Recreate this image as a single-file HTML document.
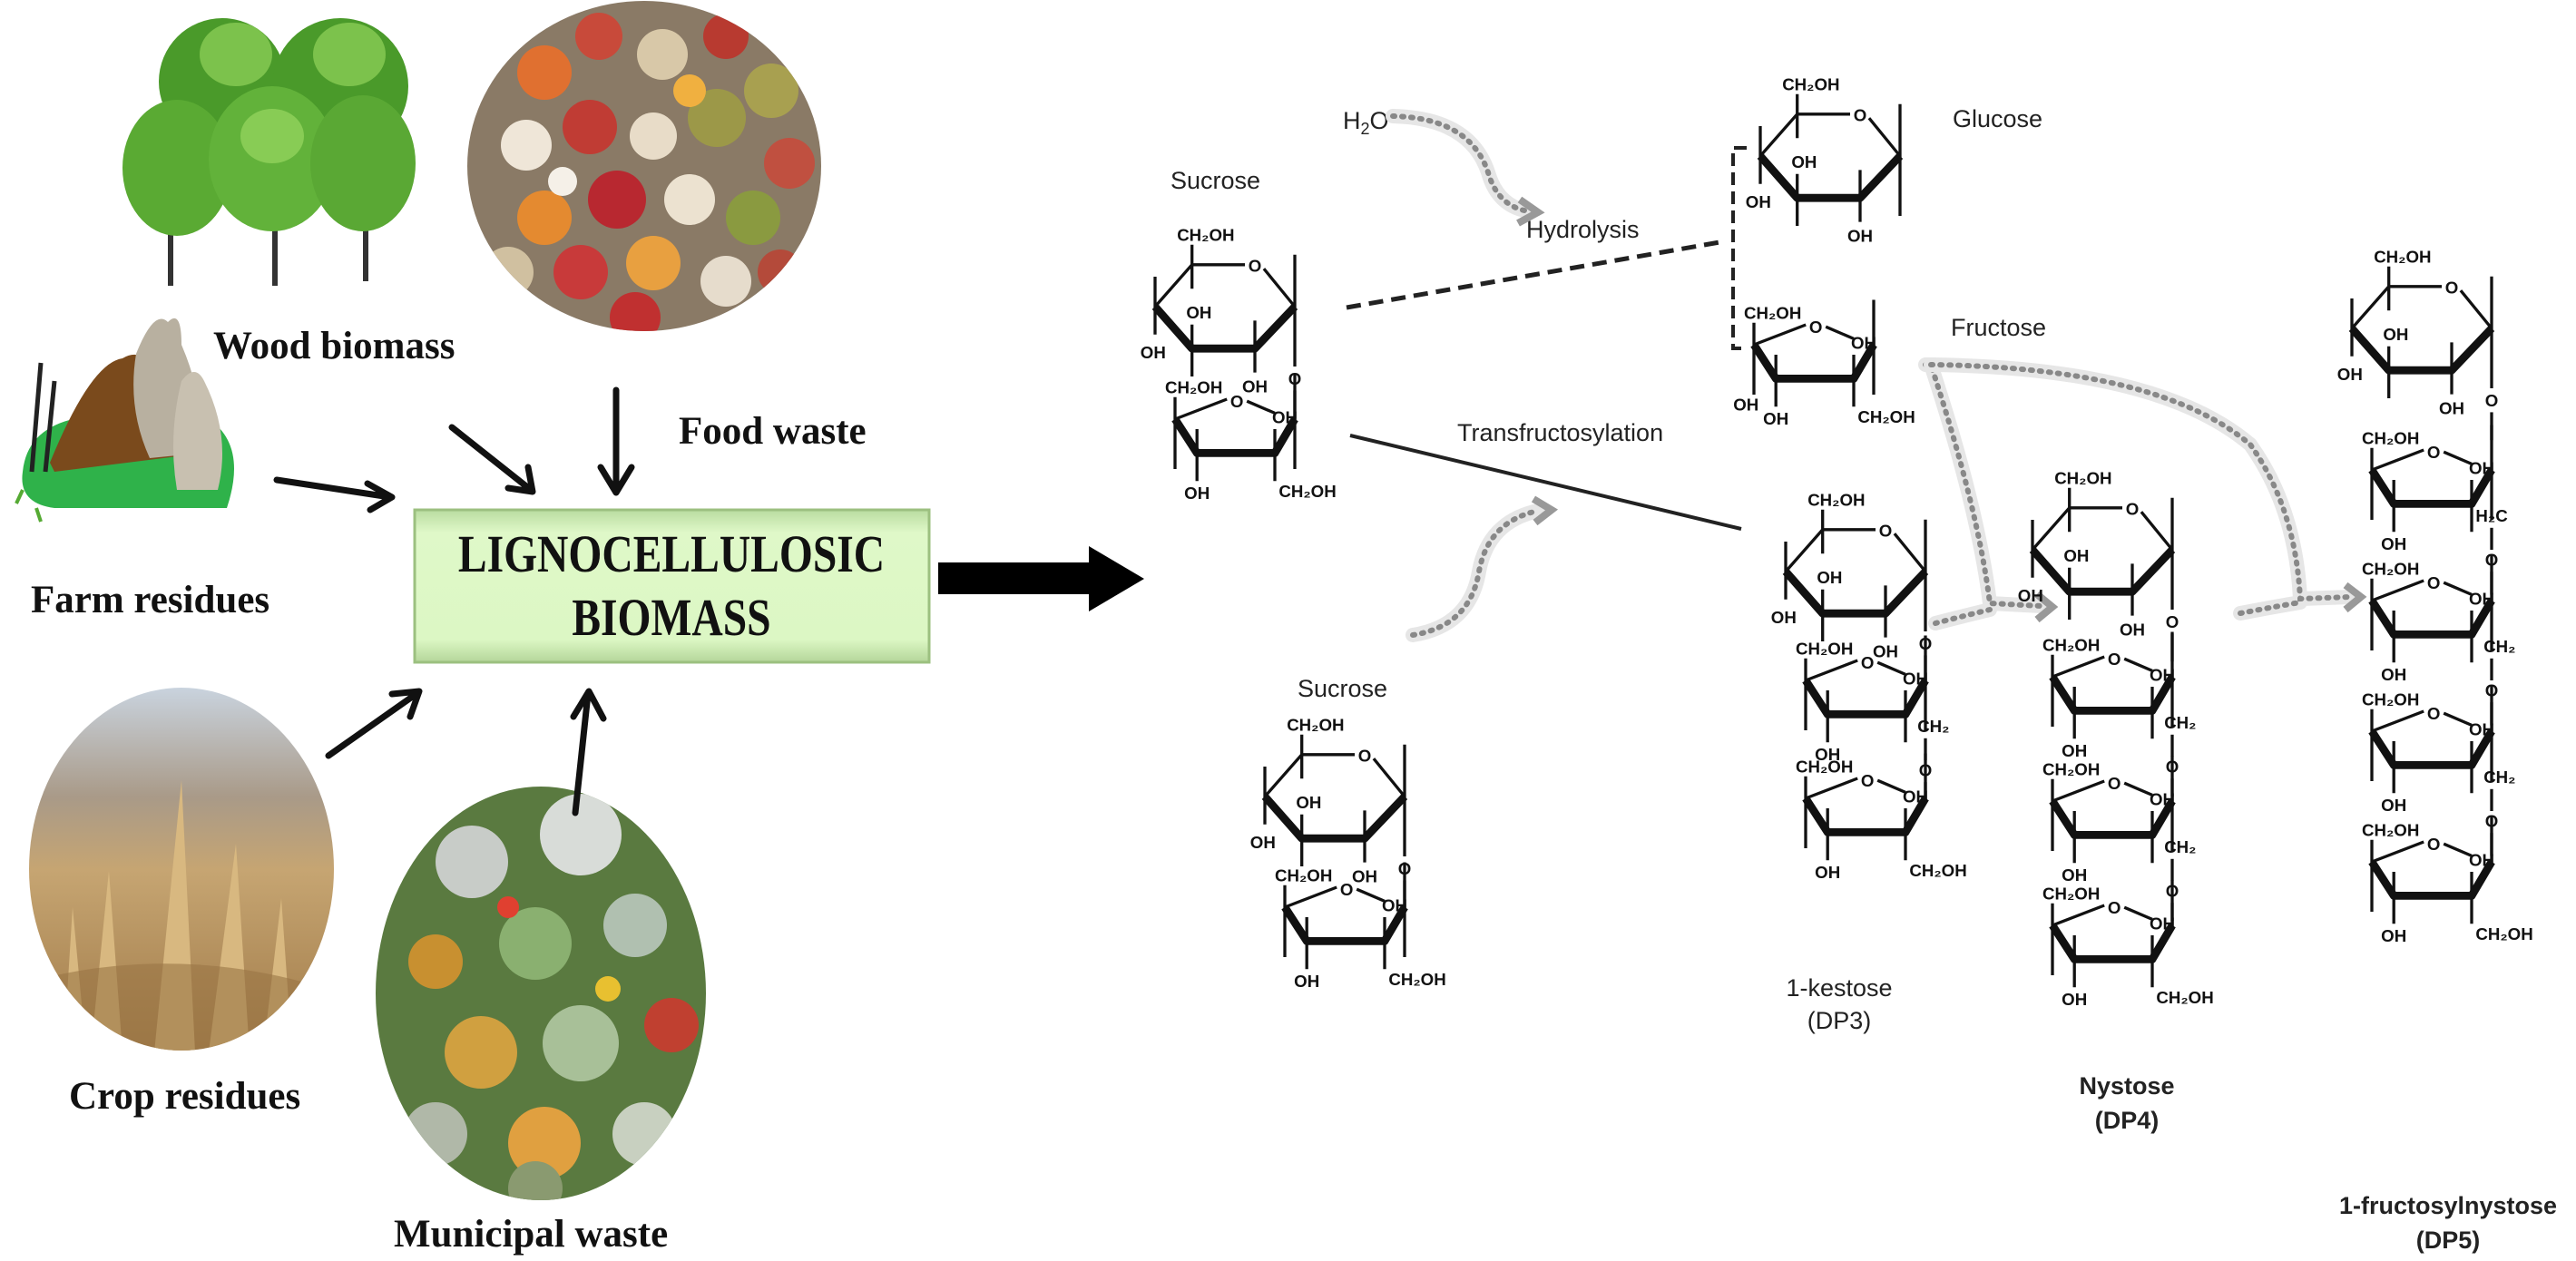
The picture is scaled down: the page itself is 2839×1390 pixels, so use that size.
<!DOCTYPE html>
<html><head><meta charset="utf-8"><style>
html,body{margin:0;padding:0;background:#fff}
svg{display:block}
.t{stroke:#111;stroke-width:3;fill:none}
.k{stroke:#111;stroke-width:8;fill:none;stroke-linejoin:round}
.ch text{font-family:"Liberation Sans",sans-serif;font-weight:bold;font-size:17px;fill:#111}
.c{text-anchor:middle}
.lbl{font-family:"Liberation Sans",sans-serif;font-size:27px;fill:#222}
.bl{font-family:"Liberation Serif",serif;font-weight:bold;font-size:43px;fill:#111}
.dot{stroke:#888;stroke-width:6;stroke-dasharray:2 8;stroke-linecap:round;fill:none}
.halo{stroke:#e6e6e6;stroke-width:16;fill:none;stroke-linecap:round}
.ar{stroke:#111;stroke-width:7;fill:none;stroke-linecap:round;stroke-linejoin:round}
</style></head><body>
<svg width="2839" height="1390" viewBox="0 0 2839 1390" xmlns="http://www.w3.org/2000/svg">
<defs>
<linearGradient id="gbox" x1="0" y1="0" x2="0" y2="1"><stop offset="0" stop-color="#b9dca0"/><stop offset="0.15" stop-color="#dff8c8"/><stop offset="0.85" stop-color="#dcf7c4"/><stop offset="1" stop-color="#b4d69a"/></linearGradient>
<clipPath id="cf"><ellipse cx="710" cy="183" rx="195" ry="182"/></clipPath>
<clipPath id="cc"><ellipse cx="200" cy="958" rx="168" ry="200"/></clipPath>
<clipPath id="cm"><ellipse cx="596" cy="1095" rx="182" ry="228"/></clipPath>
<linearGradient id="gcrop" x1="0" y1="0" x2="0" y2="1"><stop offset="0" stop-color="#c9d3de"/><stop offset="0.3" stop-color="#a99a88"/><stop offset="0.5" stop-color="#c6a572"/><stop offset="1" stop-color="#a07a48"/></linearGradient>
</defs>

<g>
<rect x="185" y="220" width="6" height="95" fill="#333"/>
<rect x="300" y="220" width="6" height="95" fill="#333"/>
<rect x="400" y="220" width="6" height="90" fill="#333"/>
<ellipse cx="245" cy="90" rx="70" ry="70" fill="#4a9a2a"/>
<ellipse cx="375" cy="95" rx="75" ry="75" fill="#4a9a2a"/>
<ellipse cx="195" cy="185" rx="60" ry="75" fill="#5aaa33"/>
<ellipse cx="300" cy="175" rx="70" ry="80" fill="#62b23a"/>
<ellipse cx="400" cy="180" rx="58" ry="75" fill="#5aa834"/>
<ellipse cx="260" cy="60" rx="40" ry="35" fill="#7cc24c"/>
<ellipse cx="385" cy="60" rx="40" ry="35" fill="#7cc24c"/>
<ellipse cx="300" cy="150" rx="35" ry="30" fill="#88cc55"/>
</g>

<g clip-path="url(#cf)">
<rect x="510" y="0" width="400" height="370" fill="#8a7a66"/>
<circle cx="600" cy="80" r="30" fill="#e07030"/><circle cx="660" cy="40" r="26" fill="#c84a3a"/>
<circle cx="730" cy="60" r="28" fill="#d8c8a8"/><circle cx="800" cy="40" r="25" fill="#b83a30"/>
<circle cx="850" cy="100" r="30" fill="#a8a050"/><circle cx="580" cy="160" r="28" fill="#efe6d8"/>
<circle cx="650" cy="140" r="30" fill="#c03c34"/><circle cx="720" cy="150" r="26" fill="#e8dcc8"/>
<circle cx="790" cy="130" r="32" fill="#9c9848"/><circle cx="870" cy="180" r="28" fill="#c05040"/>
<circle cx="600" cy="240" r="30" fill="#e48a30"/><circle cx="680" cy="220" r="32" fill="#b82830"/>
<circle cx="760" cy="220" r="28" fill="#ece2d0"/><circle cx="830" cy="240" r="30" fill="#8a9a40"/>
<circle cx="560" cy="300" r="28" fill="#d0c0a0"/><circle cx="640" cy="300" r="30" fill="#c83a3a"/>
<circle cx="720" cy="290" r="30" fill="#e8a040"/><circle cx="800" cy="310" r="28" fill="#e6dccc"/>
<circle cx="700" cy="350" r="28" fill="#c03030"/><circle cx="860" cy="300" r="25" fill="#b44a3a"/>
<circle cx="760" cy="100" r="18" fill="#f0b040"/><circle cx="620" cy="200" r="16" fill="#f5f0e8"/>
</g>

<g>
<path d="M25,520 Q30,470 90,460 L240,470 Q270,500 250,560 L60,560 Q20,555 25,520Z" fill="#2fb24a"/>
<path d="M55,510 Q100,400 135,395 Q160,380 180,420 Q220,470 220,500 L60,520Z" fill="#7a4a1c"/>
<path d="M150,390 Q170,340 185,355 Q200,340 200,380 Q230,450 215,500 L165,505 Q140,450 150,390Z" fill="#b8b0a0"/>
<path d="M200,420 Q215,400 225,420 Q255,480 240,540 L195,540 Q185,480 200,420Z" fill="#c8c0b0"/>
<path d="M35,520 L45,400 M50,520 L60,420" stroke="#222" stroke-width="5"/>
<path d="M25,540 L18,555 M40,560 L45,575" stroke="#5a3" stroke-width="4"/>
</g>

<g clip-path="url(#cc)">
<rect x="30" y="758" width="340" height="402" fill="url(#gcrop)"/>
<path d="M100,1160 L120,960 L135,1160Z M170,1160 L200,860 L215,1160Z M230,1160 L260,930 L275,1160Z M70,1160 L80,1000 L95,1160Z M290,1160 L310,990 L322,1160Z" fill="#d8b880"/>
<path d="M40,1080 Q200,1040 360,1090 L360,1160 L40,1160Z" fill="#9a7444" opacity="0.6"/>
</g>

<g clip-path="url(#cm)">
<rect x="410" y="865" width="380" height="490" fill="#5a7a40"/>
<circle cx="520" cy="950" r="40" fill="#c8ccc8"/><circle cx="640" cy="920" r="45" fill="#d8dcd8"/>
<circle cx="480" cy="1060" r="30" fill="#c89030"/><circle cx="590" cy="1040" r="40" fill="#8ab070"/>
<circle cx="700" cy="1020" r="35" fill="#b0c0b0"/><circle cx="530" cy="1160" r="40" fill="#d0a040"/>
<circle cx="640" cy="1150" r="42" fill="#a8c098"/><circle cx="740" cy="1130" r="30" fill="#c04030"/>
<circle cx="480" cy="1250" r="35" fill="#b0b8a8"/><circle cx="600" cy="1260" r="40" fill="#e0a040"/>
<circle cx="710" cy="1250" r="35" fill="#c8d0c0"/><circle cx="590" cy="1310" r="30" fill="#8a9a70"/>
<circle cx="560" cy="1000" r="12" fill="#e04030"/><circle cx="670" cy="1090" r="14" fill="#e8c030"/>
</g>

<text class="bl" x="235" y="395">Wood biomass</text>
<text class="bl" x="748" y="489">Food waste</text>
<text class="bl" x="34" y="675">Farm residues</text>
<text class="bl" x="76" y="1222">Crop residues</text>
<text class="bl" x="434" y="1374">Municipal waste</text>

<rect x="457" y="562" width="567" height="168" fill="url(#gbox)" stroke="#9cc080" stroke-width="3"/>
<g font-family="Liberation Serif,serif" font-weight="bold" font-size="58" fill="#111" text-anchor="middle">
<text x="740" y="630" transform="translate(740 0) scale(0.82 1) translate(-740 0)">LIGNOCELLULOSIC</text>
<text x="740" y="700" transform="translate(740 0) scale(0.82 1) translate(-740 0)">BIOMASS</text>
</g>

<g class="ar">
<path d="M305,529 L430,548 M405,533 L432,548 L408,562"/>
<path d="M498,471 L585,540 M560,538 L587,542 L582,515"/>
<path d="M679,430 L679,540 M662,515 L679,543 L696,515"/>
<path d="M362,833 L460,764 M432,765 L462,762 L452,790"/>
<path d="M634,896 L648,765 M632,790 L649,762 L665,792"/>
</g>
<path d="M1034,620 L1200,620 L1200,602 L1261,638 L1200,674 L1200,655 L1034,655Z" fill="#000"/>

<text class="lbl" x="1480" y="142">H<tspan font-size="18" dy="6">2</tspan><tspan dy="-6">O</tspan></text>
<text class="lbl" x="1290" y="208">Sucrose</text>
<text class="lbl" x="1682" y="262">Hydrolysis</text>
<text class="lbl" x="2152" y="140">Glucose</text>
<text class="lbl" x="2150" y="370">Fructose</text>
<text class="lbl" x="1606" y="486">Transfructosylation</text>
<text class="lbl" x="1430" y="768">Sucrose</text>
<text class="lbl" x="2027" y="1098" text-anchor="middle">1-kestose</text>
<text class="lbl" x="2027" y="1134" text-anchor="middle">(DP3)</text>
<g class="lbl" font-weight="bold" text-anchor="middle">
<text x="2344" y="1206">Nystose</text><text x="2344" y="1244">(DP4)</text>
<text x="2698" y="1338">1-fructosylnystose</text><text x="2698" y="1376">(DP5)</text>
</g>

<path d="M1484,339 L1901,266" stroke="#222" stroke-width="5" stroke-dasharray="16 9"/>
<path d="M1925,163 L1910,163 L1910,384 L1925,384" stroke="#222" stroke-width="4" stroke-dasharray="14 7" fill="none"/>
<path d="M1488,480 L1919,583" stroke="#222" stroke-width="4"/>

<g>
<path class="halo" d="M1535,128 Q1620,130 1640,190 Q1650,225 1680,232"/>
<path class="dot" d="M1535,128 Q1620,130 1640,190 Q1650,225 1680,232"/>
<path d="M1675,220 L1695,234 L1673,246" stroke="#999" stroke-width="8" fill="none"/>
<path class="halo" d="M1557,700 Q1620,690 1630,630 Q1640,575 1695,563"/>
<path class="dot" d="M1557,700 Q1620,690 1630,630 Q1640,575 1695,563"/>
<path d="M1690,550 L1710,562 L1692,576" stroke="#999" stroke-width="8" fill="none"/>
<path class="halo" d="M2122,402 L2128,402 Q2180,560 2193,665 L2250,668 M2133,687 Q2160,680 2193,672"/>
<path class="dot" d="M2122,402 L2128,402 Q2180,560 2193,665 L2250,668 M2133,687 Q2160,680 2193,672"/>
<path d="M2245,655 L2262,669 L2245,683" stroke="#999" stroke-width="8" fill="none"/>
<path class="halo" d="M2128,402 Q2380,405 2480,490 Q2530,560 2535,660 L2590,658 M2469,676 Q2500,670 2535,664"/>
<path class="dot" d="M2128,402 Q2380,405 2480,490 Q2530,560 2535,660 L2590,658 M2469,676 Q2500,670 2535,664"/>
<path d="M2585,645 L2602,658 L2585,672" stroke="#999" stroke-width="8" fill="none"/>
</g>

<g class="ch">
<g transform="translate(1273,338) scale(1.1)"><path class="t" d="M0,0 L37,-42 L90,-42 M109,-38 L140,0 M0,-30 V28 M37,-62 V-18 M37,18 V70 M100,14 V66 M140,-52 V60"/><path class="k" d="M0,0 L37,42 L100,42 L140,0"/><text x="100" y="-35" class="c">O</text><text x="22" y="-66">CH₂OH</text><text x="44" y="12" class="c">OH</text><text x="-2" y="52" class="c">OH</text><text x="100" y="86" class="c">OH</text><text x="140" y="78" class="c">O</text><path class="t" d="M140,84 V112"/></g>
<g transform="translate(1394,878) scale(1.1)"><path class="t" d="M0,0 L37,-42 L90,-42 M109,-38 L140,0 M0,-30 V28 M37,-62 V-18 M37,18 V70 M100,14 V66 M140,-52 V60"/><path class="k" d="M0,0 L37,42 L100,42 L140,0"/><text x="100" y="-35" class="c">O</text><text x="22" y="-66">CH₂OH</text><text x="44" y="12" class="c">OH</text><text x="-2" y="52" class="c">OH</text><text x="100" y="86" class="c">OH</text><text x="140" y="78" class="c">O</text><path class="t" d="M140,84 V112"/></g>
<g transform="translate(1940,172) scale(1.1)"><path class="t" d="M0,0 L37,-42 L90,-42 M109,-38 L140,0 M0,-30 V28 M37,-62 V-18 M37,18 V70 M100,14 V66 M140,-52 V60"/><path class="k" d="M0,0 L37,42 L100,42 L140,0"/><text x="100" y="-35" class="c">O</text><text x="22" y="-66">CH₂OH</text><text x="44" y="12" class="c">OH</text><text x="-2" y="52" class="c">OH</text><text x="100" y="86" class="c">OH</text></g>
<g transform="translate(1968,630) scale(1.1)"><path class="t" d="M0,0 L37,-42 L90,-42 M109,-38 L140,0 M0,-30 V28 M37,-62 V-18 M37,18 V70 M100,14 V66 M140,-52 V60"/><path class="k" d="M0,0 L37,42 L100,42 L140,0"/><text x="100" y="-35" class="c">O</text><text x="22" y="-66">CH₂OH</text><text x="44" y="12" class="c">OH</text><text x="-2" y="52" class="c">OH</text><text x="100" y="86" class="c">OH</text><text x="140" y="78" class="c">O</text><path class="t" d="M140,84 V112"/></g>
<g transform="translate(2240,606) scale(1.1)"><path class="t" d="M0,0 L37,-42 L90,-42 M109,-38 L140,0 M0,-30 V28 M37,-62 V-18 M37,18 V70 M100,14 V66 M140,-52 V60"/><path class="k" d="M0,0 L37,42 L100,42 L140,0"/><text x="100" y="-35" class="c">O</text><text x="22" y="-66">CH₂OH</text><text x="44" y="12" class="c">OH</text><text x="-2" y="52" class="c">OH</text><text x="100" y="86" class="c">OH</text><text x="140" y="78" class="c">O</text><path class="t" d="M140,84 V112"/></g>
<g transform="translate(2592,362) scale(1.1)"><path class="t" d="M0,0 L37,-42 L90,-42 M109,-38 L140,0 M0,-30 V28 M37,-62 V-18 M37,18 V70 M100,14 V66 M140,-52 V60"/><path class="k" d="M0,0 L37,42 L100,42 L140,0"/><text x="100" y="-35" class="c">O</text><text x="22" y="-66">CH₂OH</text><text x="44" y="12" class="c">OH</text><text x="-2" y="52" class="c">OH</text><text x="100" y="86" class="c">OH</text><text x="140" y="78" class="c">O</text><path class="t" d="M140,84 V112"/></g>

<g transform="translate(1295,462) scale(1.1)"><path class="t" d="M0,0 L52,-20 M72,-18 L100,-6 M0,-22 V50 M22,10 V62 M100,10 V62 M120,-45 V50"/><path class="k" d="M0,0 L22,34 L100,34 L120,0"/><text x="62" y="-12" class="c">O</text><text x="-10" y="-26">CH₂OH</text><text x="110" y="4" class="c">OH</text><text x="22" y="80" class="c">OH</text><text x="104" y="78">CH₂OH</text></g>
<g transform="translate(1416,1000) scale(1.1)"><path class="t" d="M0,0 L52,-20 M72,-18 L100,-6 M0,-22 V50 M22,10 V62 M100,10 V62 M120,-45 V50"/><path class="k" d="M0,0 L22,34 L100,34 L120,0"/><text x="62" y="-12" class="c">O</text><text x="-10" y="-26">CH₂OH</text><text x="110" y="4" class="c">OH</text><text x="22" y="80" class="c">OH</text><text x="104" y="78">CH₂OH</text></g>
<g transform="translate(1933,380) scale(1.1)"><path class="t" d="M0,0 L52,-20 M72,-18 L100,-6 M0,-22 V50 M22,10 V62 M100,10 V62 M120,-45 V50"/><path class="k" d="M0,0 L22,34 L100,34 L120,0"/><text x="62" y="-12" class="c">O</text><text x="-10" y="-26">CH₂OH</text><text x="110" y="4" class="c">OH</text><text x="22" y="80" class="c">OH</text><text x="-8" y="66" class="c">OH</text><text x="104" y="78">CH₂OH</text></g>
<g transform="translate(1990,750) scale(1.1)"><path class="t" d="M0,0 L52,-20 M72,-18 L100,-6 M0,-22 V50 M22,10 V62 M100,10 V62 M120,-45 V50"/><path class="k" d="M0,0 L22,34 L100,34 L120,0"/><text x="62" y="-12" class="c">O</text><text x="-10" y="-26">CH₂OH</text><text x="110" y="4" class="c">OH</text><text x="22" y="80" class="c">OH</text><text x="112" y="52">CH₂</text><path class="t" d="M120,58 V80"/><text x="120" y="96" class="c">O</text><path class="t" d="M120,102 V120"/></g>
<g transform="translate(1990,880) scale(1.1)"><path class="t" d="M0,0 L52,-20 M72,-18 L100,-6 M0,-22 V50 M22,10 V62 M100,10 V62 M120,-45 V5"/><path class="k" d="M0,0 L22,34 L100,34 L120,0"/><text x="62" y="-12" class="c">O</text><text x="-10" y="-26">CH₂OH</text><text x="110" y="4" class="c">OH</text><text x="22" y="80" class="c">OH</text><text x="104" y="78">CH₂OH</text></g>
<g transform="translate(2262,746) scale(1.1)"><path class="t" d="M0,0 L52,-20 M72,-18 L100,-6 M0,-22 V50 M22,10 V62 M100,10 V62 M120,-45 V50"/><path class="k" d="M0,0 L22,34 L100,34 L120,0"/><text x="62" y="-12" class="c">O</text><text x="-10" y="-26">CH₂OH</text><text x="110" y="4" class="c">OH</text><text x="22" y="80" class="c">OH</text><text x="112" y="52">CH₂</text><path class="t" d="M120,58 V80"/><text x="120" y="96" class="c">O</text><path class="t" d="M120,102 V120"/></g>
<g transform="translate(2262,883) scale(1.1)"><path class="t" d="M0,0 L52,-20 M72,-18 L100,-6 M0,-22 V50 M22,10 V62 M100,10 V62 M120,-45 V50"/><path class="k" d="M0,0 L22,34 L100,34 L120,0"/><text x="62" y="-12" class="c">O</text><text x="-10" y="-26">CH₂OH</text><text x="110" y="4" class="c">OH</text><text x="22" y="80" class="c">OH</text><text x="112" y="52">CH₂</text><path class="t" d="M120,58 V80"/><text x="120" y="96" class="c">O</text><path class="t" d="M120,102 V120"/></g>
<g transform="translate(2262,1020) scale(1.1)"><path class="t" d="M0,0 L52,-20 M72,-18 L100,-6 M0,-22 V50 M22,10 V62 M100,10 V62 M120,-45 V5"/><path class="k" d="M0,0 L22,34 L100,34 L120,0"/><text x="62" y="-12" class="c">O</text><text x="-10" y="-26">CH₂OH</text><text x="110" y="4" class="c">OH</text><text x="22" y="80" class="c">OH</text><text x="104" y="78">CH₂OH</text></g>
<g transform="translate(2614,518) scale(1.1)"><path class="t" d="M0,0 L52,-20 M72,-18 L100,-6 M0,-22 V50 M22,10 V62 M100,10 V62 M120,-45 V50"/><path class="k" d="M0,0 L22,34 L100,34 L120,0"/><text x="62" y="-12" class="c">O</text><text x="-10" y="-26">CH₂OH</text><text x="110" y="4" class="c">OH</text><text x="22" y="80" class="c">OH</text><text x="104" y="52">H₂C</text><path class="t" d="M120,58 V80"/><text x="120" y="96" class="c">O</text><path class="t" d="M120,102 V125"/></g>
<g transform="translate(2614,662) scale(1.1)"><path class="t" d="M0,0 L52,-20 M72,-18 L100,-6 M0,-22 V50 M22,10 V62 M100,10 V62 M120,-45 V50"/><path class="k" d="M0,0 L22,34 L100,34 L120,0"/><text x="62" y="-12" class="c">O</text><text x="-10" y="-26">CH₂OH</text><text x="110" y="4" class="c">OH</text><text x="22" y="80" class="c">OH</text><text x="112" y="52">CH₂</text><path class="t" d="M120,58 V80"/><text x="120" y="96" class="c">O</text><path class="t" d="M120,102 V125"/></g>
<g transform="translate(2614,806) scale(1.1)"><path class="t" d="M0,0 L52,-20 M72,-18 L100,-6 M0,-22 V50 M22,10 V62 M100,10 V62 M120,-45 V50"/><path class="k" d="M0,0 L22,34 L100,34 L120,0"/><text x="62" y="-12" class="c">O</text><text x="-10" y="-26">CH₂OH</text><text x="110" y="4" class="c">OH</text><text x="22" y="80" class="c">OH</text><text x="112" y="52">CH₂</text><path class="t" d="M120,58 V80"/><text x="120" y="96" class="c">O</text><path class="t" d="M120,102 V125"/></g>
<g transform="translate(2614,950) scale(1.1)"><path class="t" d="M0,0 L52,-20 M72,-18 L100,-6 M0,-22 V50 M22,10 V62 M100,10 V62 M120,-45 V5"/><path class="k" d="M0,0 L22,34 L100,34 L120,0"/><text x="62" y="-12" class="c">O</text><text x="-10" y="-26">CH₂OH</text><text x="110" y="4" class="c">OH</text><text x="22" y="80" class="c">OH</text><text x="104" y="78">CH₂OH</text></g>
</g>
</svg>
</body></html>
